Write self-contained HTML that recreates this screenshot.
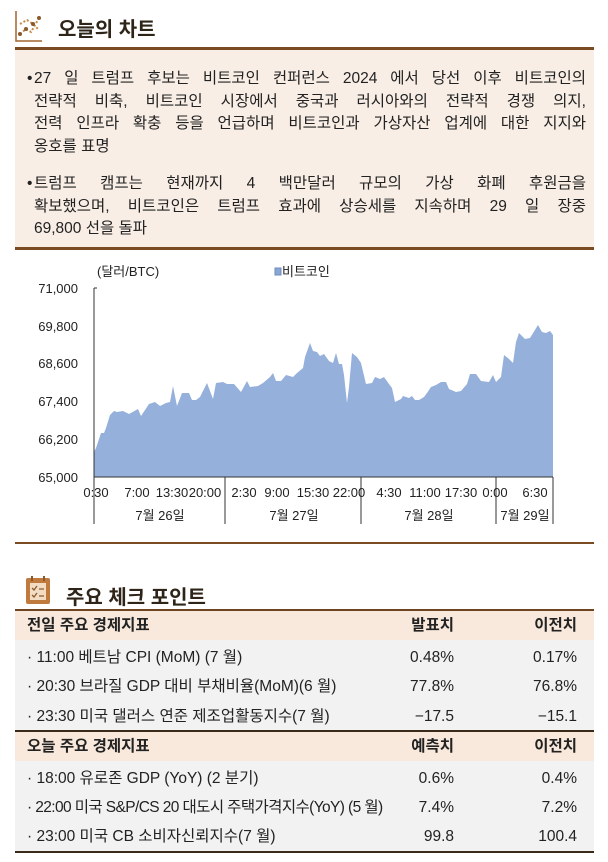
<!DOCTYPE html>
<html><head><meta charset="utf-8"><style>
body{margin:0;width:608px;height:862px;background:#fff;font-family:"Liberation Sans","Noto Sans CJK KR",sans-serif;position:relative;overflow:hidden;color:#222}
.a{position:absolute}
.t{font-size:20px;font-weight:bold;color:#2e2418}
.box{left:15px;top:47px;width:579px;height:203px;background:#f8eee6;border-top:3px solid #7a4b22;border-bottom:3px solid #7a4b22;box-sizing:border-box}
.p{position:absolute;left:12px;width:552px;font-size:15.5px;line-height:22.6px;padding-left:7px}
.p:before{content:"•";position:absolute;left:0}
.l{display:block;text-align:justify;text-align-last:justify;white-space:nowrap;height:22.6px}
.e{text-align-last:left}
.row{position:absolute;left:15px;width:579px;height:29px;font-size:15.5px;line-height:29px}
.row span{position:absolute}
.h{font-weight:bold;background:#f9e9dc}
</style></head><body>
<svg class="a" style="left:15px;top:10px" width="28" height="32" viewBox="0 0 28 32">
<path d="M1 1V31H27" stroke="#a0652f" stroke-width="1.5" fill="none"/>
<path d="M5 24 L11 19 L16 22 L24 8" stroke="#c88a4a" stroke-width="2" stroke-dasharray="2 2" fill="none"/>
<path d="M5 14 L12 10 L18 14 L24 20" stroke="#c88a4a" stroke-width="2" stroke-dasharray="2 2" fill="none"/>
<circle cx="11" cy="19" r="2" fill="#8a5a2a"/><circle cx="24" cy="8" r="2" fill="#8a5a2a"/><circle cx="18" cy="14" r="2" fill="#8a5a2a"/><circle cx="5" cy="24" r="2" fill="#8a5a2a"/>
</svg>
<div class="a t" style="left:58px;top:13px">오늘의 차트</div>
<div class="a box">
<div class="p" style="top:18px"><span class="l">27 일 트럼프 후보는 비트코인 컨퍼런스 2024 에서 당선 이후 비트코인의</span><span class="l">전략적 비축, 비트코인 시장에서 중국과 러시아와의 전략적 경쟁 의지,</span><span class="l">전력 인프라 확충 등을 언급하며 비트코인과 가상자산 업계에 대한 지지와</span><span class="l e">옹호를 표명</span></div>
<div class="p" style="top:123px"><span class="l">트럼프 캠프는 현재까지 4 백만달러 규모의 가상 화폐 후원금을</span><span class="l">확보했으며, 비트코인은 트럼프 효과에 상승세를 지속하며 29 일 장중</span><span class="l e">69,800 선을 돌파</span></div>
</div>
<svg class="a" style="left:0;top:260px" width="608" height="290" font-family="Liberation Sans, Noto Sans CJK KR, sans-serif" font-size="13" fill="#222">
<g transform="translate(0,-260)">
<text x="97" y="276">(달러/BTC)</text>
<rect x="275" y="268" width="6" height="7" fill="#8aa6d4" stroke="#6f8cc0"/><text x="282" y="276">비트코인</text>
<g text-anchor="end">
<text x="78" y="293">71,000</text><text x="78" y="331">69,800</text><text x="78" y="368">68,600</text><text x="78" y="406">67,400</text><text x="78" y="444">66,200</text><text x="78" y="482">65,000</text>
</g>
<path d="M94 477 L94 452 96 448 101 433 104 433 106 428 110 415 114 411 117 412 123 411 129 414 138 409 141 416 149 404 155 402 160 406 166 403 170 402 173 386 177 406 182 393 189 393 192 400 196 400 200 397 207 383 213 399 216 383 223 382 227 384 234 384 241 392 247 381 250 387 258 386 263 383 270 377 273 373 276 381 281 381 286 375 293 377 297 373 303 368 305 357 310 343 313 351 317 352 320 356 324 354 329 361 333 363 336 353 339 364 342 364 344 375 347 403 349 387 352 353 357 357 361 363 366 384 372 383 375 377 380 379 384 377 389 384 392 388 395 402 401 399 403 396 409 398 412 396 415 400 419 400 424 397 427 393 431 387 436 385 441 382 446 382 449 389 456 392 461 391 467 384 470 374 476 374 481 381 489 382 493 375 496 382 501 377 504 355 509 359 513 363 516 342 519 333 525 339 530 338 538 325 542 332 546 333 550 331 553 335 L553 477 Z" fill="#95b0da"/>
<path d="M94 288V524M94 288h3M225 477V524M361 477V524M496 477V524M553 477V524M94 477H553" stroke="#333" stroke-width="1" fill="none"/>
<g text-anchor="middle">
<text x="96" y="497">0:30</text><text x="137" y="497">7:00</text><text x="172" y="497">13:30</text><text x="205" y="497">20:00</text><text x="244" y="497">2:30</text><text x="277" y="497">9:00</text><text x="313" y="497">15:30</text><text x="349" y="497">22:00</text><text x="389" y="497">4:30</text><text x="425" y="497">11:00</text><text x="461" y="497">17:30</text><text x="495" y="497">0:00</text><text x="535" y="497">6:30</text>
<text x="160" y="520">7월 26일</text><text x="294" y="520">7월 27일</text><text x="429" y="520">7월 28일</text><text x="525" y="520">7월 29일</text>
</g>
<line x1="15" y1="543" x2="594" y2="543" stroke="#7a4b22" stroke-width="2"/>
</g></svg>
<svg class="a" style="left:25px;top:575px" width="26" height="30" viewBox="0 0 26 30">
<rect x="1" y="3" width="24" height="26" rx="2" fill="#c07a3e"/><rect x="5" y="8" width="16" height="17" fill="#f3dcc4"/>
<path d="M7 1v5M19 1v5" stroke="#8a5a2a" stroke-width="2"/>
<path d="M7 13l2 2 3-4M7 20l2 2 3-4M14 14h5M14 21h5" stroke="#8a5a2a" stroke-width="1.3" fill="none"/>
</svg>
<div class="a t" style="left:66px;top:581px">주요 체크 포인트</div>
<div class="a" style="left:15px;top:609px;width:579px;height:2px;background:#6e4520"></div>
<div class="a" style="left:15px;top:640px;width:579px;height:90px;background:#f2f2f2"></div>
<div class="a" style="left:15px;top:730px;width:579px;height:2px;background:#3a2a1a"></div>
<div class="a" style="left:15px;top:761px;width:579px;height:90px;background:#f2f2f2"></div>
<div class="a" style="left:15px;top:851px;width:579px;height:2px;background:#3a2a1a"></div>
<div class="row h" style="top:611px"><span style="left:12px">전일 주요 경제지표</span><span style="right:140px">발표치</span><span style="right:17px">이전치</span></div>
<div class="row" style="top:643px"><span style="left:12px">· 11:00 베트남 CPI (MoM) (7 월)</span><span style="right:140px">0.48%</span><span style="right:17px">0.17%</span></div>
<div class="row" style="top:672px"><span style="left:12px">· 20:30 브라질 GDP 대비 부채비율(MoM)(6 월)</span><span style="right:140px">77.8%</span><span style="right:17px">76.8%</span></div>
<div class="row" style="top:702px"><span style="left:12px">· 23:30 미국 댈러스 연준 제조업활동지수(7 월)</span><span style="right:140px">−17.5</span><span style="right:17px">−15.1</span></div>
<div class="row h" style="top:732px"><span style="left:12px">오늘 주요 경제지표</span><span style="right:140px">예측치</span><span style="right:17px">이전치</span></div>
<div class="row" style="top:764px"><span style="left:12px">· 18:00 유로존 GDP (YoY) (2 분기)</span><span style="right:140px">0.6%</span><span style="right:17px">0.4%</span></div>
<div class="row" style="top:793px"><span style="left:12px;letter-spacing:-0.6px">· 22:00 미국 S&amp;P/CS 20 대도시 주택가격지수(YoY) (5 월)</span><span style="right:140px">7.4%</span><span style="right:17px">7.2%</span></div>
<div class="row" style="top:822px"><span style="left:12px">· 23:00 미국 CB 소비자신뢰지수(7 월)</span><span style="right:140px">99.8</span><span style="right:17px">100.4</span></div>
</body></html>
